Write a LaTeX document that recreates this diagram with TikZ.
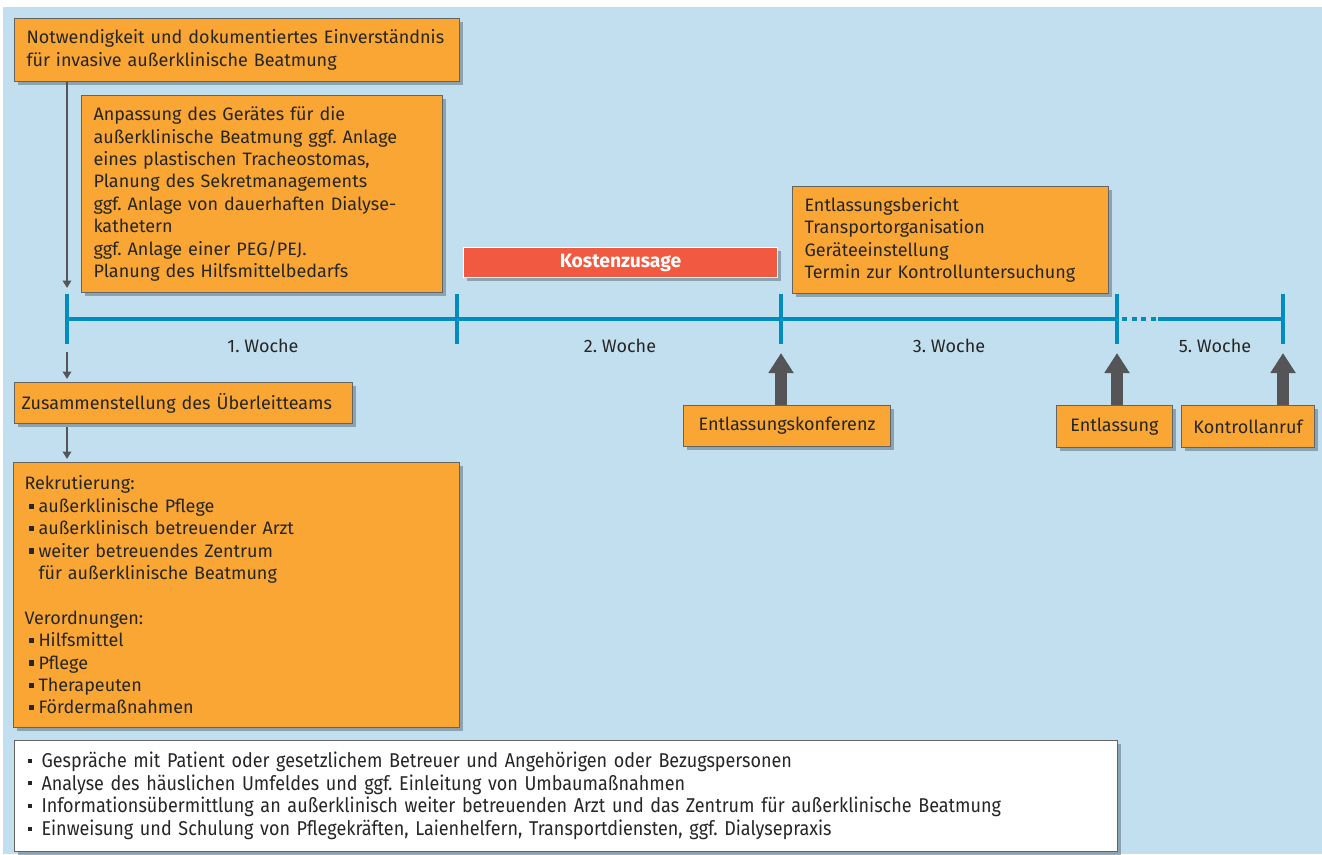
\documentclass[tikz,border=0pt]{standalone}
\usepackage{fontspec}
\setmainfont{Fira Sans}
\newfontfamily\condfont[FakeStretch=0.9]{Fira Sans}
\usetikzlibrary{arrows.meta,shadows,calc}
\definecolor{bg}{RGB}{194,223,239}
\definecolor{org}{RGB}{249,166,52}
\definecolor{edge}{RGB}{100,100,100}
\definecolor{tl}{RGB}{0,140,190}
\definecolor{arr}{RGB}{85,85,88}
\definecolor{red1}{RGB}{241,90,64}
\definecolor{txt}{RGB}{38,38,38}
\definecolor{shd}{RGB}{110,130,145}
\newcommand\sqb{\rule[0.2em]{0.28em}{0.28em}}
\newcommand\itm{\hspace*{4pt}\makebox[10pt][l]{\sqb}}
\newcommand\wsq{\rule[0.25em]{0.2em}{0.2em}}
\newcommand\witm{\hspace*{10pt}\makebox[13pt][l]{\wsq}}
\frenchspacing
\begin{document}
\begin{tikzpicture}[x=1pt,y=-1pt,
  every node/.style={font=\fontsize{18}{22.4}\selectfont, text=txt},
  shad/.style={drop shadow={shadow xshift=3pt,shadow yshift=-3pt,fill=shd,opacity=0.65}},
  obox/.style={draw=edge, line width=1pt, fill=org, anchor=north west, align=left,
    inner xsep=12pt, inner ysep=0pt, shad},
  cbox/.style={draw=edge, line width=1pt, fill=org, anchor=north west, align=center,
    inner sep=0pt, shad},
  thinarrow/.style={draw=arr, line width=2.5pt, -{Triangle[width=8.5pt,length=7.5pt]}},
  fatarrow/.style={draw=arr, line width=12pt, -{Triangle[width=24pt,length=20pt]}},
  tlline/.style={draw=tl, line width=4pt},
  week/.style={font=\fontsize{18}{20}\selectfont},
]
\useasboundingbox (0,0) rectangle (1322,854);
\fill[bg] (3,7) rectangle (1322,854);

% timeline coordinates
\coordinate (t0) at (67,319);
\coordinate (t1) at (457,319);
\coordinate (t2) at (781,319);
\coordinate (t3) at (1117,319);
\coordinate (t4) at (1283,319);
\coordinate (d0) at (1122,319);
\coordinate (d1) at (1158,319);

\draw[tlline] (t0) -- (t3);
\draw[tlline, dash pattern=on 5pt off 4.5pt] (d0) -- (d1);
\draw[tlline] (d1) -- (t4);
\foreach \t in {t0,t1,t2,t3,t4}
  \draw[tlline] ($(\t)+(0,-25)$) -- ($(\t)+(0,25)$);

\node[week] (w1) at (263,346) {1. Woche};
\node[week] (w2) at (620,346) {2. Woche};
\node[week] (w3) at (949,346) {3. Woche};
\node[week] (w5) at (1215,346) {5. Woche};

% boxes
\node[obox, text width=421pt, minimum height=63pt] (b1) at (14,18)
  {\mbox{Notwendigkeit und dokumentiertes Einverständnis}\\für invasive außerklinische Beatmung};
\node[obox, text width=337pt, minimum height=197pt] (b2) at (81,95)
  {Anpassung des Gerätes für die\\\mbox{außerklinische Beatmung ggf. Anlage}\\eines plastischen Tracheostomas,\\Planung des Sekretmanagements\\\mbox{ggf. Anlage von dauerhaften Dialyse-}\\kathetern\\ggf. Anlage einer PEG/PEJ.\\Planung des Hilfsmittelbedarfs};
\node[obox, inner xsep=7pt, text width=324pt, minimum height=41pt] (b3) at (14,382)
  {Zusammenstellung des Überleitteams};
\node[obox, inner xsep=11pt, text width=424pt, minimum height=265pt] (b4) at (13,462)
  {Rekrutierung:\\
   \itm außerklinische Pflege\\
   \itm außerklinisch betreuender Arzt\\
   \itm weiter betreuendes Zentrum\\
   \hspace*{14pt}für außerklinische Beatmung\\[22.4pt]
   Verordnungen:\\
   \itm Hilfsmittel\\
   \itm Pflege\\
   \itm Therapeuten\\
   \itm Fördermaßnahmen};
\node[obox, text width=292pt, minimum height=107pt] (b5) at (792,186)
  {Entlassungsbericht\\Transportorganisation\\Geräteeinstellung\\Termin zur Kontrolluntersuchung};
\node[draw=white, line width=1pt, fill=red1, anchor=north west, inner sep=0pt,
  minimum width=314pt, minimum height=30pt, text=white,
  font=\fontsize{19.3}{20}\selectfont\bfseries, shad] (ko) at (463,247) {Kostenzusage};
\node[cbox, minimum width=207pt, minimum height=41pt] (ek) at (683,405) {Entlassungskonferenz};
\node[cbox, minimum width=116pt, minimum height=42pt] (en) at (1056,405) {Entlassung};
\node[cbox, minimum width=133pt, minimum height=42pt] (ka) at (1181,405) {Kontrollanruf};
\node[draw=edge, line width=1pt, fill=white, anchor=north west, align=left,
  inner xsep=4pt, inner ysep=0pt, text width=1095pt, minimum height=111pt,
  font=\condfont\fontsize{20}{22.6}\selectfont, shad] (wb) at (14,740)
  {\witm Gespräche mit Patient oder gesetzlichem Betreuer und Angehörigen oder Bezugspersonen\\
   \witm Analyse des häuslichen Umfeldes und ggf. Einleitung von Umbaumaßnahmen\\
   \witm Informationsübermittlung an außerklinisch weiter betreuenden Arzt und das Zentrum für außerklinische Beatmung\\
   \witm Einweisung und Schulung von Pflegekräften, Laienhelfern, Transportdiensten, ggf. Dialysepraxis};

% thin arrows
\coordinate (a0) at (67,288);
\coordinate (a1) at (67,352);
\draw[thinarrow] (b1.south -| t0) -- (a0);
\draw[thinarrow, shorten >=3pt] (a1) -- (b3.north -| t0);
\draw[thinarrow, shorten <=3pt, shorten >=3pt] (b3.south -| t0) -- (b4.north -| t0);

% fat arrows
\coordinate (u2) at (781,353);
\coordinate (u3) at (1117,353);
\coordinate (u4) at (1283,353);
\draw[fatarrow] (ek.north -| t2) -- (u2);
\draw[fatarrow] (en.north -| t3) -- (u3);
\draw[fatarrow] (ka.north -| t4) -- (u4);
\end{tikzpicture}
\end{document}
